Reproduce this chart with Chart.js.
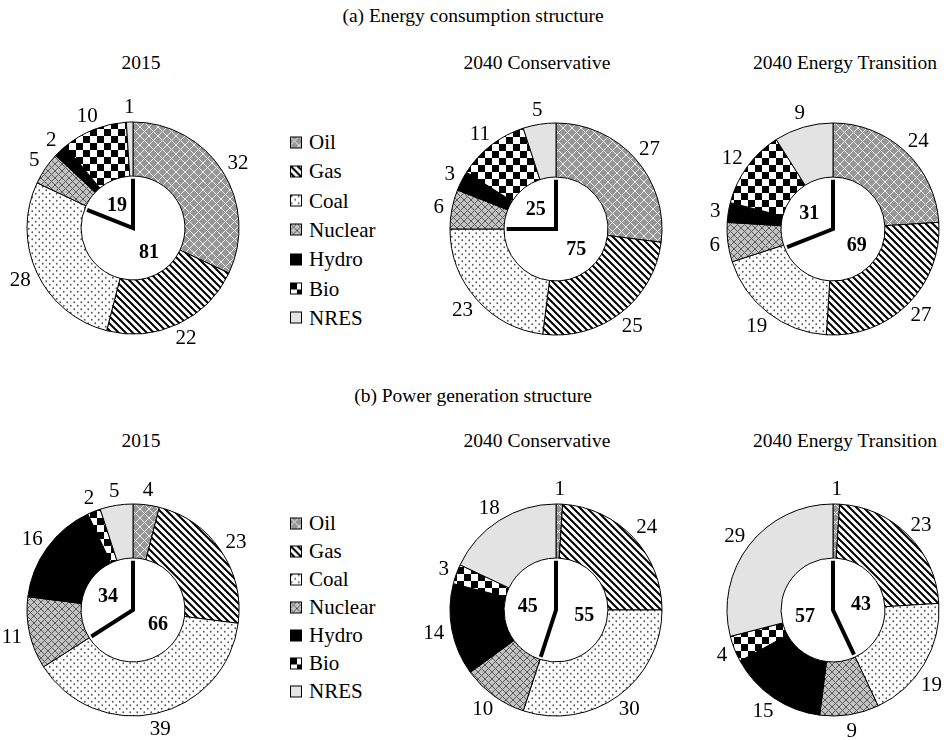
<!DOCTYPE html>
<html>
<head>
<meta charset="utf-8">
<script src="https://cdn.jsdelivr.net/npm/chart.js@4.4.1/dist/chart.umd.min.js"></script>
<style>
  html, body { margin: 0; padding: 0; background: #fff; }
  #page { position: relative; width: 946px; height: 740px; overflow: hidden;
          font-family: "Liberation Serif", "Times New Roman", serif; color: #000; }
  .txt { position: absolute; white-space: nowrap; font-size: 19.5px; transform: translate(-50%, -50%); }
  .chartbox { position: absolute; }
  .legend { position: absolute; font-size: 21px; }
  .legend .item { position: absolute; left: 0; display: flex; align-items: center; white-space: nowrap; transform: translateY(-50%); }
  .legend canvas { display: block; margin-right: 7px; }
</style>
</head>
<body>
<div id="page"></div>
<script>
// Energy sources, in drawing order (clockwise from 12 o'clock)
const sources = ['Oil', 'Gas', 'Coal', 'Nuclear', 'Hydro', 'Bio', 'NRES'];
const scenarios = ['2015', '2040 Conservative', '2040 Energy Transition'];

// (a) Energy consumption structure, % share by source
const consumption2015 = [32, 22, 28, 5, 2, 10, 1];
const consumption2040Conservative = [27, 25, 23, 6, 3, 11, 5];
const consumption2040Transition = [24, 27, 19, 6, 3, 12, 9];
const consumptionFossil = [81, 75, 69];
const consumptionNonFossil = [19, 25, 31];

// (b) Power generation structure, % share by source
const power2015 = [4, 23, 39, 11, 16, 2, 5];
const power2040Conservative = [1, 24, 30, 10, 14, 3, 18];
const power2040Transition = [1, 23, 19, 9, 15, 4, 29];
const powerFossil = [66, 55, 43];
const powerNonFossil = [34, 45, 57];

const panelTitles = ['(a) Energy consumption structure', '(b) Power generation structure'];

const FONT = '"Liberation Serif", "Times New Roman", serif';
const PAGE_W = 946;

// ---------- fill patterns ----------
function tile(w, h, draw) {
  const c = document.createElement('canvas');
  c.width = w; c.height = h;
  const g = c.getContext('2d');
  draw(g, w, h);
  return c;
}
function lattice(bg, fg, size, lw) {
  return tile(size, size, (g, w, h) => {
    g.fillStyle = bg; g.fillRect(0, 0, w, h);
    g.strokeStyle = fg; g.lineWidth = lw;
    g.beginPath();
    g.moveTo(0, 0); g.lineTo(w, h);
    g.moveTo(w, 0); g.lineTo(0, h);
    g.stroke();
  });
}
const tiles = [
  lattice('#979797', '#ececec', 9, 1),                 // Oil
  tile(7, 7, (g, w, h) => {                            // Gas
    g.fillStyle = '#fff'; g.fillRect(0, 0, w, h);
    g.strokeStyle = '#000'; g.lineWidth = 2;
    g.beginPath();
    g.moveTo(-1, -1); g.lineTo(w + 1, h + 1);
    g.moveTo(-1, h - 1); g.lineTo(1, h + 1);
    g.moveTo(w - 1, -1); g.lineTo(w + 1, 1);
    g.stroke();
  }),
  tile(7, 7, (g, w, h) => {                            // Coal
    g.fillStyle = '#fff'; g.fillRect(0, 0, w, h);
    g.fillStyle = '#555';
    g.beginPath(); g.arc(1.75, 1.75, 0.9, 0, Math.PI * 2); g.fill();
    g.beginPath(); g.arc(5.25, 5.25, 0.9, 0, Math.PI * 2); g.fill();
  }),
  lattice('#c2c2c2', '#5a5a5a', 7, 1),                 // Nuclear
  tile(4, 4, (g, w, h) => { g.fillStyle = '#000'; g.fillRect(0, 0, w, h); }),  // Hydro
  tile(14, 14, (g, w, h) => {                          // Bio
    g.fillStyle = '#fff'; g.fillRect(0, 0, w, h);
    g.fillStyle = '#000'; g.fillRect(0, 0, 7, 7); g.fillRect(7, 7, 7, 7);
  }),
  tile(4, 4, (g, w, h) => { g.fillStyle = '#e3e3e3'; g.fillRect(0, 0, w, h); })  // NRES
];
const probe = document.createElement('canvas').getContext('2d');
const fills = tiles.map(t => probe.createPattern(t, 'repeat'));

// ---------- plugin: outer value labels, clock hands, fossil/non-fossil shares ----------
const ringDecor = {
  id: 'ringDecor',
  afterDatasetsDraw(chart, args, opts) {
    const ctx = chart.ctx;
    const meta = chart.getDatasetMeta(0);
    const values = chart.data.datasets[0].data;
    let cx = 0, cy = 0, inner = 0;
    ctx.save();
    ctx.font = '21px ' + FONT;
    ctx.fillStyle = '#000';
    ctx.textAlign = 'center';
    ctx.textBaseline = 'middle';
    meta.data.forEach((arc, i) => {
      const p = arc.getProps(['x', 'y', 'startAngle', 'endAngle', 'outerRadius', 'innerRadius'], true);
      cx = p.x; cy = p.y; inner = p.innerRadius;
      const mid = (p.startAngle + p.endAngle) / 2;
      const dx = Math.cos(mid), dy = Math.sin(mid);
      const text = String(values[i]);
      const w = ctx.measureText(text).width, h = 15;
      const d = p.outerRadius + 8;
      let lx = p.x + dx * d + dx * w / 2;
      let ly = p.y + dy * d + dy * h / 2 + 1;
      // keep the label inside the page: slide it round the ring if it would spill over
      const limit = opts.rightEdge - w / 2 - 4;
      if (lx > limit) {
        const D = Math.hypot(lx - p.x, ly - p.y);
        const ox = limit - p.x;
        lx = limit;
        ly = p.y + Math.sign(dy || 1) * Math.sqrt(Math.max(D * D - ox * ox, 0));
      }
      ctx.fillText(text, lx, ly);
    });

    // clock hands: 12 o'clock and the fossil/non-fossil split
    const fossil = opts.fossil, nonFossil = opts.nonFossil;
    const L = inner * 0.95;
    const a = -Math.PI / 2 + fossil / 100 * Math.PI * 2;
    ctx.strokeStyle = '#000';
    ctx.lineWidth = 4;
    ctx.lineJoin = 'miter';
    ctx.lineCap = 'butt';
    ctx.beginPath();
    ctx.moveTo(cx, cy - L);
    ctx.lineTo(cx, cy);
    ctx.lineTo(cx + Math.cos(a) * L, cy + Math.sin(a) * L);
    ctx.stroke();

    ctx.font = 'bold 20px ' + FONT;
    const r = inner * 0.55;
    const af = -Math.PI / 2 + (fossil / 2) / 100 * Math.PI * 2;
    const an = -Math.PI / 2 + (fossil + (100 - fossil) / 2) / 100 * Math.PI * 2;
    ctx.fillText(String(fossil), cx + Math.cos(af) * r, cy + Math.sin(af) * r + 1);
    ctx.fillText(String(nonFossil), cx + Math.cos(an) * r, cy + Math.sin(an) * r + 1);
    ctx.restore();
  }
};

// ---------- layout ----------
const page = document.getElementById('page');
function addText(str, x, y) {
  const d = document.createElement('div');
  d.className = 'txt';
  d.textContent = str;
  d.style.left = x + 'px';
  d.style.top = y + 'px';
  page.appendChild(d);
}

const SIZE = 310;
function addRing(values, fossil, nonFossil, cx, cy) {
  const c = document.createElement('canvas');
  c.width = SIZE; c.height = SIZE;
  c.className = 'chartbox';
  const left = cx - SIZE / 2;
  c.style.left = left + 'px';
  c.style.top = (cy - SIZE / 2) + 'px';
  c.style.width = SIZE + 'px';
  c.style.height = SIZE + 'px';
  page.appendChild(c);
  new Chart(c, {
    type: 'doughnut',
    data: {
      labels: sources,
      datasets: [{
        data: values,
        backgroundColor: fills,
        borderColor: '#000',
        borderWidth: 1
      }]
    },
    options: {
      responsive: false,
      animation: false,
      events: [],
      radius: 106,
      cutout: '49%',
      layout: { padding: 0 },
      plugins: {
        legend: { display: false },
        tooltip: { enabled: false },
        ringDecor: { fossil, nonFossil, rightEdge: PAGE_W - left }
      }
    },
    plugins: [ringDecor]
  });
}

function addLegend(x, y0, step) {
  const box = document.createElement('div');
  box.className = 'legend';
  box.style.left = x + 'px';
  box.style.top = '0px';
  sources.forEach((s, i) => {
    const it = document.createElement('div');
    it.className = 'item';
    it.style.top = (y0 + i * step) + 'px';
    const sw = document.createElement('canvas');
    sw.width = 12; sw.height = 12;
    const g = sw.getContext('2d');
    g.fillStyle = g.createPattern(tiles[i], 'repeat');
    g.fillRect(0, 0, 12, 12);
    g.strokeStyle = '#000'; g.lineWidth = 1;
    g.strokeRect(0.5, 0.5, 11, 11);
    it.appendChild(sw);
    const t = document.createElement('span');
    t.textContent = s;
    it.appendChild(t);
    box.appendChild(it);
  });
  page.appendChild(box);
}

const centersX = [133, 555.5, 833];
const titleX = [141, 537, 845];

// (a)
addText(panelTitles[0], 473, 16);
scenarios.forEach((s, i) => addText(s, titleX[i], 63));
addRing(consumption2015, consumptionFossil[0], consumptionNonFossil[0], centersX[0], 228);
addRing(consumption2040Conservative, consumptionFossil[1], consumptionNonFossil[1], centersX[1], 229);
addRing(consumption2040Transition, consumptionFossil[2], consumptionNonFossil[2], centersX[2], 229);
addLegend(290, 142, 29.3);

// (b)
addText(panelTitles[1], 473, 396);
scenarios.forEach((s, i) => addText(s, titleX[i], 441));
addRing(power2015, powerFossil[0], powerNonFossil[0], centersX[0], 610);
addRing(power2040Conservative, powerFossil[1], powerNonFossil[1], centersX[1], 609.5);
addRing(power2040Transition, powerFossil[2], powerNonFossil[2], centersX[2], 609.5);
addLegend(290, 523, 28);
</script>
</body>
</html>
